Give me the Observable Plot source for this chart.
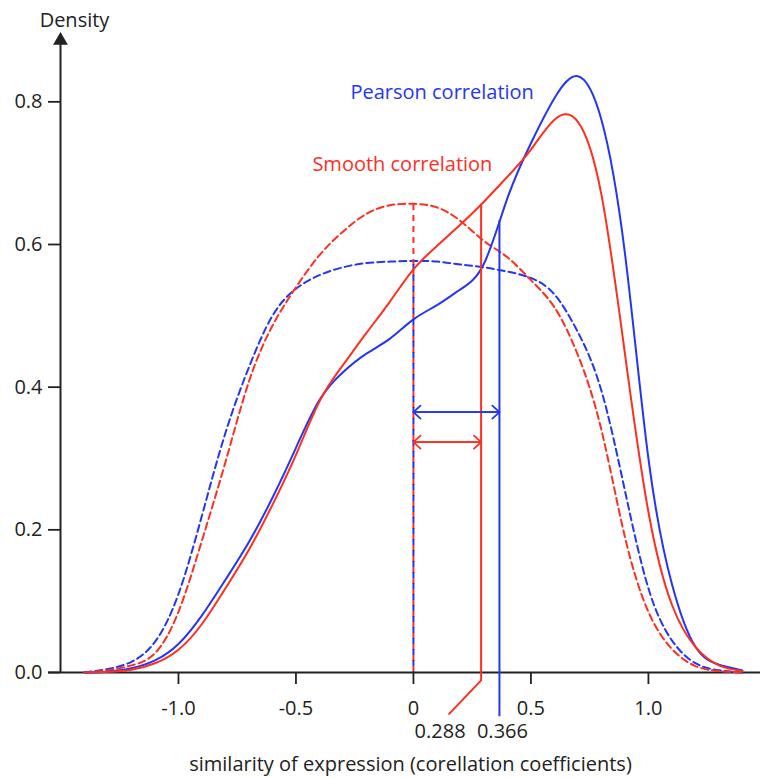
<!DOCTYPE html>
<html>
<head>
<meta charset="utf-8">
<script src="https://cdn.jsdelivr.net/npm/d3@7"></script>
<script src="https://cdn.jsdelivr.net/npm/@observablehq/plot@0.6"></script>
<style>
  body { margin: 0; background: #fff; }
  #chart svg { display: block; }
</style>
</head>
<body>
<div id="chart"></div>
<script>
// ---- data ----
const xs = [-1.4,-1.3,-1.2,-1.1,-1.0,-0.9,-0.8,-0.7,-0.6,-0.5,-0.4,-0.3,-0.2,-0.1,0.0,
            0.1,0.2,0.3,0.4,0.5,0.6,0.7,0.8,0.9,1.0,1.1,1.2,1.3,1.4];
// Pearson correlation (solid blue)
const pearson = [0,0.001,0.006,0.017,0.04,0.08,0.13,0.183,0.245,0.315,0.382,0.421,0.447,0.468,0.495,
                 0.515,0.537,0.573,0.665,0.742,0.805,0.836,0.775,0.588,0.30,0.124,0.036,0.011,0.003];
// Smooth correlation (solid red)
const smooth = [0,0.001,0.004,0.013,0.032,0.068,0.118,0.172,0.235,0.305,0.38,0.431,0.476,0.52,0.565,
                0.598,0.628,0.66,0.695,0.733,0.775,0.772,0.67,0.447,0.225,0.095,0.036,0.01,0.002];
// Pearson correlation, random (dashed blue)
const pearsonRandom = [0,0.005,0.015,0.043,0.11,0.22,0.336,0.428,0.5,0.538,0.557,0.568,0.574,0.576,0.577,
                       0.576,0.572,0.568,0.562,0.553,0.53,0.477,0.395,0.255,0.118,0.045,0.013,0.003,0];
// Smooth correlation, random (dashed red)
const smoothRandom = [0,0.003,0.01,0.027,0.085,0.185,0.295,0.408,0.486,0.54,0.585,0.618,0.643,0.655,0.657,
                      0.652,0.633,0.605,0.582,0.55,0.512,0.445,0.34,0.19,0.085,0.033,0.009,0.002,0];

const xTicks = [-1.0, -0.5, 0, 0.5, 1.0];
const xTickLabels = ["-1.0", "-0.5", "0", "0.5", "1.0"];
const yTicks = [0, 0.2, 0.4, 0.6, 0.8];
const yTickLabels = ["0.0", "0.2", "0.4", "0.6", "0.8"];

const seriesNames = ["Pearson correlation", "Smooth correlation"];
const seriesLabelX = [-0.268, -0.43];
const seriesLabelY = [0.813, 0.712];
const meanShift = [0.366, 0.288];          // annotated shift of each distribution (blue, red)
const meanShiftLabels = ["0.366", "0.288"];
const shiftArrowY = [0.365, 0.323];        // height of the double arrows
const redLeaderTail = [[0.288, -0.011], [0.152, -0.058]]; // leader from the 0.288 line to its label
const blueLeaderEnd = -0.062;

const xTitle = "similarity of expression (corellation coefficients)";
const yTitle = "Density";

// ---- style ----
const BLUE = "#2436f5";
const RED = "#ff2f1f";
const AX = "#222";
const FONT = "'Open Sans', 'Noto Sans', sans-serif";
const FS = 20;
const xDomain = [-1.502, 1.477];
const arrowTop = 0.886;

// ---- tables ----
const tidy = (ys, series) => xs.map((x, i) => ({x, y: ys[i], series}));
const solidData = [...tidy(pearson, "P"), ...tidy(smooth, "S")];
const blueDash = tidy(pearsonRandom, "P");
const redDash = tidy(smoothRandom, "S");

const interp = (ys, v) => d3.scaleLinear(xs, ys)(v);
const blueTop = interp(pearson, meanShift[0]);
const redTop = interp(smooth, meanShift[1]);

const redPeakX = xs[d3.maxIndex(smoothRandom)];
const bluePeakX = xs[d3.maxIndex(pearsonRandom)];

const redLeader = [{x: meanShift[1], y: redTop}, {x: meanShift[1], y: 0},
                   ...redLeaderTail.map(([x, y]) => ({x, y}))];

const chart = Plot.plot({
  width: 760,
  height: 778,
  marginLeft: 60,
  marginRight: 0,
  marginTop: 30,
  marginBottom: 106,
  x: {domain: xDomain, label: null},
  y: {domain: [0, 0.9], label: null},
  style: {fontFamily: FONT, fontSize: FS + "px", color: AX, background: "#fff"},
  marks: [
    // axes
    Plot.ruleY([0], {insetLeft: -12, stroke: AX, strokeWidth: 2}),
    Plot.ruleX([xDomain[0]], {y1: 0, y2: arrowTop, stroke: AX, strokeWidth: 2}),
    Plot.dot([{x: xDomain[0], y: arrowTop}], {x: "x", y: "y", symbol: "triangle", r: 5.5, fill: AX, stroke: null}),
    Plot.axisY({ticks: yTicks, tickFormat: d => yTickLabels[yTicks.indexOf(d)], tickSize: 12, tickPadding: 6,
                fontSize: FS, stroke: AX, strokeWidth: 1.8, label: null}),
    Plot.axisX({ticks: xTicks, tickFormat: d => xTickLabels[xTicks.indexOf(d)], tickSize: 12, tickPadding: 16,
                fontSize: FS, stroke: AX, strokeWidth: 1.8, label: null}),
    Plot.text([yTitle], {text: d => d, frameAnchor: "top-left", textAnchor: "middle", lineAnchor: "middle",
                         dx: 14, dy: -10, fontSize: FS, fill: AX}),
    Plot.text([xTitle], {text: d => d, frameAnchor: "bottom", dy: 98, fontSize: FS, fill: AX}),

    // dashed curves (random)
    Plot.line(blueDash, {x: "x", y: "y", stroke: BLUE, strokeWidth: 2, strokeDasharray: "7,4", curve: "natural"}),
    Plot.line(redDash, {x: "x", y: "y", stroke: RED, strokeWidth: 2, strokeDasharray: "7,4", curve: "natural"}),

    // dashed verticals at the random-curve peaks
    Plot.ruleX([redPeakX], {y1: 0, y2: d3.max(smoothRandom), stroke: RED, strokeWidth: 2, strokeDasharray: "6,5"}),
    Plot.ruleX([bluePeakX], {y1: 0, y2: d3.max(pearsonRandom), stroke: BLUE, strokeWidth: 2, strokeDasharray: "6,5", strokeDashoffset: 5}),

    // solid curves
    Plot.line(solidData, {x: "x", y: "y", z: "series", stroke: d => d.series === "P" ? BLUE : RED, strokeWidth: 2, curve: "natural"}),

    // shift verticals + leaders
    Plot.line(redLeader, {x: "x", y: "y", stroke: RED, strokeWidth: 2}),
    Plot.ruleX([meanShift[0]], {y1: blueLeaderEnd, y2: blueTop, stroke: BLUE, strokeWidth: 2}),

    // double arrows
    Plot.arrow([0, 1], {x1: 0, x2: i => meanShift[i], y1: i => shiftArrowY[i], y2: i => shiftArrowY[i],
                        stroke: i => i === 0 ? BLUE : RED, strokeWidth: 1.8, headLength: 8, headAngle: 85}),
    Plot.arrow([0, 1], {x1: i => meanShift[i], x2: 0, y1: i => shiftArrowY[i], y2: i => shiftArrowY[i],
                        stroke: i => i === 0 ? BLUE : RED, strokeWidth: 1.8, headLength: 8, headAngle: 85}),

    // shift labels
    Plot.text([1], {x: i => meanShift[i], y: 0, text: i => meanShiftLabels[i], dy: 59, dx: -41, fontSize: FS, fill: AX}),
    Plot.text([0], {x: i => meanShift[i], y: 0, text: i => meanShiftLabels[i], dy: 59, dx: 3, fontSize: FS, fill: AX}),

    // series labels
    Plot.text([0, 1], {x: i => seriesLabelX[i], y: i => seriesLabelY[i], text: i => seriesNames[i],
                       textAnchor: "start", fontSize: FS, fill: i => i === 0 ? BLUE : RED})
  ]
});
document.getElementById("chart").append(chart);
</script>
</body>
</html>
